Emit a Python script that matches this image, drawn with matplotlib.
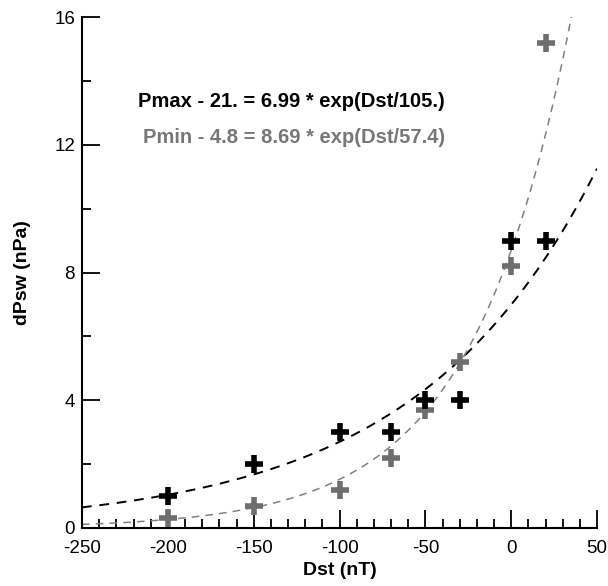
import numpy as np
import matplotlib.pyplot as plt
from matplotlib.ticker import MultipleLocator

plt.rcParams['font.family'] = ['Liberation Sans', 'DejaVu Sans']
plt.rcParams['axes.unicode_minus'] = False

# Measured points
dst = [-200, -150, -100, -70, -50, -30, 0, 20]
pmax = [1.0, 2.0, 3.0, 3.0, 4.0, 4.0, 9.0, 9.0]
pmin = [0.3, 0.7, 1.2, 2.2, 3.7, 5.2, 8.2, 15.2]

# Fit parameters (from the annotations)
a_max, s_max = 6.99, 105.0
a_min, s_min = 8.69, 57.4

fig = plt.figure(figsize=(6.08, 5.86), dpi=100)
ax = fig.add_axes([82 / 608, 1 - 528 / 586, 515 / 608, 511 / 586])

xf = np.linspace(-250, 50, 400)
ax.plot(xf, a_max * np.exp(xf / s_max), color='black', lw=1.4, dashes=(5, 4))
ax.plot(xf, a_min * np.exp(xf / s_min), color='#808080', lw=1.1, dashes=(5, 4))

ax.plot(dst, pmin, '+', color='#6e6e6e', ms=13, mew=4, clip_on=False)
ax.plot(dst, pmax, '+', color='black', ms=13, mew=4, clip_on=False)

ax.text(-38.5, 13.18, 'Pmax - 21. = 6.99 * exp(Dst/105.)', ha='right', va='baseline',
        fontsize=14.5, fontweight='bold', color='black')
ax.text(-38.5, 12.05, 'Pmin - 4.8 = 8.69 * exp(Dst/57.4)', ha='right', va='baseline',
        fontsize=14.5, fontweight='bold', color='#777777')

ax.set_xlim(-250, 50)
ax.set_ylim(0, 16)
ax.xaxis.set_major_locator(MultipleLocator(50))
ax.xaxis.set_minor_locator(MultipleLocator(10))
ax.yaxis.set_major_locator(MultipleLocator(4))
ax.yaxis.set_minor_locator(MultipleLocator(2))
ax.tick_params(which='both', direction='in', width=1.3, labelsize=13.5)
ax.tick_params(which='major', length=13)
ax.tick_params(which='minor', length=6.5)
ax.tick_params(axis='x', which='major', pad=8.5)
ax.tick_params(axis='y', which='major', pad=5)
for s in ['top', 'right']:
    ax.spines[s].set_visible(False)
for s in ['left', 'bottom']:
    ax.spines[s].set_linewidth(1.5)

ax.set_xlabel('Dst (nT)', fontsize=14, fontweight='bold', labelpad=4)
ax.set_ylabel('dPsw (nPa)', fontsize=14, fontweight='bold', labelpad=17)

fig.savefig('out.png', dpi=100)
